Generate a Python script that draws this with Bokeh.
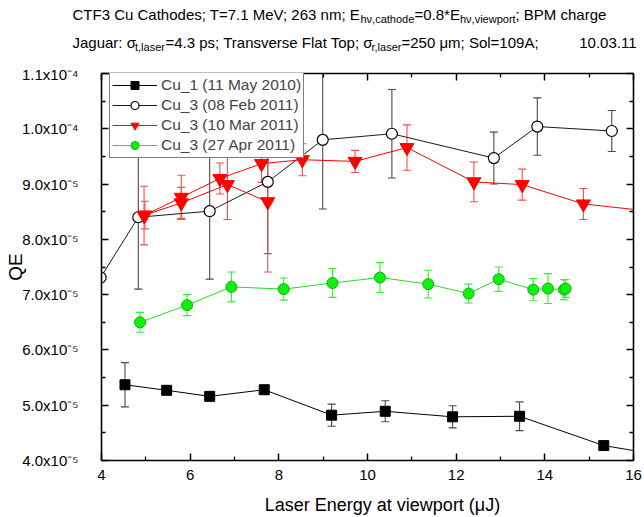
from bokeh.plotting import figure
from bokeh.layouts import column, row
from bokeh.models import Range1d, LinearAxis, FixedTicker, Label, Legend, LegendItem
from bokeh.embed import file_html
from bokeh.resources import INLINE

FONT = "Liberation Sans"
W, H = 644, 517

# ---------------- data ----------------
cu1_x = [4.53, 5.47, 6.44, 7.67, 9.19, 10.40, 11.92, 13.43, 15.33, 16.6]
cu1_y = [5.37e-5, 5.27e-5, 5.16e-5, 5.28e-5, 4.82e-5, 4.89e-5, 4.79e-5, 4.80e-5, 4.27e-5, 4.10e-5]
cu1_e = [0.40e-5, 0, 0, 0, 0.20e-5, 0.19e-5, 0.20e-5, 0.26e-5, 0, 0]

feb_x = [3.98, 4.83, 6.44, 7.75, 8.99, 10.55, 12.85, 13.83, 15.51]
feb_y = [7.31e-5, 8.40e-5, 8.51e-5, 9.04e-5, 9.80e-5, 9.91e-5, 9.47e-5, 10.04e-5, 9.96e-5]
feb_e = [0, 1.30e-5, 1.23e-5, 1.30e-5, 1.25e-5, 0.80e-5, 0.47e-5, 0.52e-5, 0.37e-5]

mar_x = [7.75, 6.84, 5.80, 4.98, 4.96, 5.80, 6.67, 7.61, 8.53, 9.72, 10.89, 12.40, 13.49, 14.87, 16.6]
mar_y = [8.68e-5, 8.99e-5, 8.66e-5, 8.44e-5, 8.43e-5, 8.76e-5, 9.10e-5, 9.37e-5, 9.44e-5, 9.41e-5,
         9.66e-5, 9.04e-5, 8.99e-5, 8.64e-5, 8.49e-5]
mar_e = [1.27e-5, 0.63e-5, 0.28e-5, 0.25e-5, 0.53e-5, 0.40e-5, 0.28e-5, 0.34e-5, 0.29e-5, 0.20e-5,
         0.41e-5, 0.36e-5, 0.28e-5, 0.28e-5, 0]

apr_x = [4.87, 5.93, 6.93, 8.11, 9.21, 10.28, 11.37, 12.28, 12.96, 13.74, 14.07, 14.43, 14.47]
apr_y = [6.50e-5, 6.81e-5, 7.14e-5, 7.10e-5, 7.21e-5, 7.31e-5, 7.19e-5, 7.02e-5, 7.28e-5, 7.09e-5,
         7.11e-5, 7.09e-5, 7.11e-5]
apr_e = [0.18e-5, 0.19e-5, 0.27e-5, 0.20e-5, 0.26e-5, 0.27e-5, 0.25e-5, 0.17e-5, 0.22e-5, 0.20e-5,
         0.27e-5, 0.18e-5, 0.16e-5]

series_labels = ["Cu_1 (11 May 2010)", "Cu_3 (08 Feb 2011)", "Cu_3 (10 Mar 2011)", "Cu_3 (27 Apr 2011)"]

x_ticks = [4, 6, 8, 10, 12, 14, 16]
x_minor = [5, 7, 9, 11, 13, 15]
y_ticks = [4e-5, 5e-5, 6e-5, 7e-5, 8e-5, 9e-5, 1.0e-4, 1.1e-4]
y_tick_mant = ["4.0x10", "5.0x10", "6.0x10", "7.0x10", "8.0x10", "9.0x10", "1.0x10", "1.1x10"]
y_tick_exp = ["-5", "-5", "-5", "-5", "-5", "-5", "-4", "-4"]
y_minor = [4.5e-5, 5.5e-5, 6.5e-5, 7.5e-5, 8.5e-5, 9.5e-5, 1.05e-4]
Y_LO, Y_HI = 4e-5, 1.1e-4
X_LO, X_HI = 4, 16

x_title = "Laser Energy at viewport (\u03bcJ)"
y_title = "QE"

# ---------------- geometry ----------------
HEAD_H = 65
MB_L, MB_R, MB_T, MB_B = 101, 11, 8, 54
ROW_H = H - HEAD_H

# ---------------- main plot ----------------
p = figure(width=W, height=ROW_H, output_backend="svg", toolbar_location=None,
           x_range=Range1d(X_LO, X_HI), y_range=Range1d(Y_LO, Y_HI),
           min_border_left=MB_L, min_border_right=MB_R, min_border_top=MB_T, min_border_bottom=MB_B)
p.xgrid.visible = False
p.ygrid.visible = False
p.outline_line_color = None

xt = FixedTicker(ticks=x_ticks, minor_ticks=x_minor)
yt = FixedTicker(ticks=y_ticks, minor_ticks=y_minor)

def style_axis(ax, show_labels, standoff=9):
    ax.axis_line_width = 1.6
    ax.axis_line_color = "black"
    ax.major_tick_in = 7
    ax.major_tick_out = 0
    ax.minor_tick_in = 4
    ax.minor_tick_out = 0
    ax.major_tick_line_width = 1.5
    ax.minor_tick_line_width = 1.3
    ax.major_tick_line_color = "black"
    ax.minor_tick_line_color = "black"
    if show_labels:
        ax.major_label_text_font = FONT
        ax.major_label_text_font_size = "15px"
        ax.major_label_text_color = "black"
        ax.major_label_standoff = standoff
    else:
        ax.major_label_text_font_size = "0px"
        ax.major_label_standoff = 0

SUP = str.maketrans("-0123456789", "\u207b\u2070\u00b9\u00b2\u00b3\u2074\u2075\u2076\u2077\u2078\u2079")

p.xaxis.ticker = xt
p.yaxis.ticker = yt
style_axis(p.xaxis[0], True, 9)
style_axis(p.yaxis[0], True, 23)
p.yaxis.major_label_overrides = {v: m + e.translate(SUP) for v, m, e in zip(y_ticks, y_tick_mant, y_tick_exp)}

p.xaxis.axis_label = "\u00a0" * 6 + x_title
p.xaxis.axis_label_text_font = FONT
p.xaxis.axis_label_text_font_size = "18px"
p.xaxis.axis_label_text_font_style = "normal"
p.xaxis.axis_label_text_color = "black"
p.xaxis.axis_label_standoff = 12

p.yaxis.axis_label = y_title
p.yaxis.axis_label_text_font = FONT
p.yaxis.axis_label_text_font_size = "19px"
p.yaxis.axis_label_text_font_style = "normal"
p.yaxis.axis_label_text_color = "black"
p.yaxis.axis_label_standoff = -7

top = LinearAxis(ticker=xt)
right = LinearAxis(ticker=yt)
style_axis(top, False)
style_axis(right, False)
p.add_layout(top, "above")
p.add_layout(right, "right")

def errbars(x, y, e, color, width=1.1):
    xs = [a for a, d in zip(x, e) if d > 0]
    lo = [b - d for b, d in zip(y, e) if d > 0]
    hi = [b + d for b, d in zip(y, e) if d > 0]
    p.segment(x0=xs, y0=lo, x1=xs, y1=hi, line_color=color, line_width=width)
    p.scatter(x=xs + xs, y=lo + hi, marker="dash", size=8, line_color=color, line_width=width)

errbars(cu1_x, cu1_y, cu1_e, "#4a4a4a")
errbars(feb_x, feb_y, feb_e, "#4a4a4a")
errbars(mar_x, mar_y, mar_e, "#ff4a4a")
errbars(apr_x, apr_y, apr_e, "#33ee33")

l1 = p.line(cu1_x, cu1_y, line_color="black", line_width=1)
s1 = p.scatter(cu1_x, cu1_y, marker="square", size=10, fill_color="black", line_color="black")
l2 = p.line(feb_x, feb_y, line_color="#1a1a1a", line_width=1)
s2 = p.scatter(feb_x, feb_y, marker="circle", size=11, fill_color="white", line_color="black", line_width=1.2)
l3 = p.line(mar_x, mar_y, line_color="#ff0000", line_width=1)
s3 = p.scatter(mar_x, mar_y, marker="inverted_triangle", size=14, fill_color="#ff0000", line_color="#ff0000")
l4 = p.line(apr_x, apr_y, line_color="#22dd22", line_width=1)
s4 = p.scatter(apr_x, apr_y, marker="circle", size=11, fill_color="#11ee11", line_color="#00bb00")

legend = Legend(items=[
    LegendItem(label=series_labels[0], renderers=[l1, s1]),
    LegendItem(label=series_labels[1], renderers=[l2, s2]),
    LegendItem(label=series_labels[2], renderers=[l3, s3]),
    LegendItem(label=series_labels[3], renderers=[l4, s4]),
], location=(8, 302), label_text_font=FONT, label_text_font_size="15.5px",
   glyph_width=45, glyph_height=20, label_height=20, spacing=0, padding=2, margin=0,
   label_standoff=4, border_line_color="black", border_line_width=1.2,
   background_fill_color="white", background_fill_alpha=1.0)
p.add_layout(legend)

# ---------------- header strip ----------------
head = figure(width=W, height=HEAD_H, output_backend="svg", toolbar_location=None,
              x_range=Range1d(0, W), y_range=Range1d(0, HEAD_H),
              min_border=0, x_axis_location=None, y_axis_location=None)
head.xgrid.visible = False
head.ygrid.visible = False
head.outline_line_color = None

def put(s, px, py, size, align="left"):
    head.add_layout(Label(x=px, y=HEAD_H - py, x_units="screen", y_units="screen", text=s,
                          text_align=align, text_baseline="alphabetic",
                          text_font=FONT, text_font_size=size, text_color="black"))

B1, B2 = 14, 42
put("CTF3 Cu Cathodes; T=7.1 MeV; 263 nm; E", 72, B1, "15px")
put("h\u03bd,cathode", 360, B1 + 4, "11px")
put("=0.8*E", 414, B1, "15px")
put("h\u03bd,viewport", 459.5, B1 + 4, "11px")
put("; BPM charge", 515, B1, "15px")
put("Jaguar: \u03c3", 72, B2, "15px")
put("t,laser", 134.5, B2 + 4, "11px")
put("=4.3 ps; Transverse Flat Top; \u03c3", 165, B2, "15px")
put("r,laser", 371, B2 + 4, "11px")
put("=250 \u03bcm; Sol=109A;", 401, B2, "15px")
put("10.03.11", 636, B2, "15px", align="right")

layout = column(head, row(p, spacing=0), spacing=0)
open("out.html", "w").write(file_html(layout, INLINE))
